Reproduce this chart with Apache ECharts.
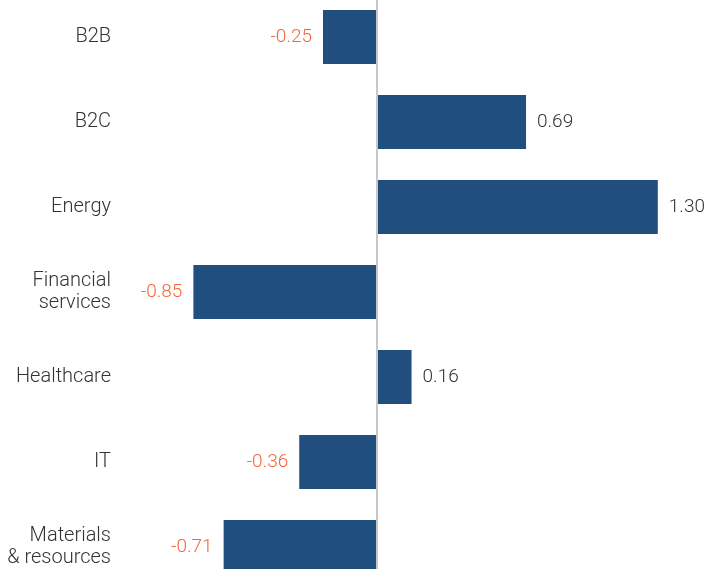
<!DOCTYPE html>
<html>
<head>
<meta charset="utf-8">
<script src="https://cdn.jsdelivr.net/npm/echarts@6/dist/echarts.min.js"></script>
<style>
  html, body { margin: 0; padding: 0; background: #fff; overflow: hidden; width: 704px; height: 569px; }
  /* the last band runs past the bottom edge, so the chart box is taller than the page */
  #chart { position: absolute; left: 0; top: -6px; width: 704px; height: 596px; }
</style>
</head>
<body>
<div id="chart"></div>
<script>
// 行业分类和数值
const categories = ["B2B", "B2C", "Energy", "Financial\nservices", "Healthcare", "IT", "Materials\n& resources"]
const values = [-0.25, 0.69, 1.30, -0.85, 0.16, -0.36, -0.71]

const barColor = "#1f4e7f"
const negColor = "#f4653a"
const posColor = "#333333"
const font = "Roboto"

let myChart = echarts.init(document.getElementById("chart"))

myChart.setOption({
  animation: false,
  grid: {
    left: 161,
    right: 3,
    top: 0.5,
    height: 595,
    containLabel: false,
  },
  xAxis: {
    type: "value",
    min: -1,
    max: 1.5,
    show: false,
  },
  yAxis: {
    type: "category",
    inverse: true,
    data: categories,
    axisLine: { show: false },
    axisTick: { show: false },
    axisLabel: {
      margin: 50,
      color: posColor,
      fontFamily: font,
      fontWeight: 300,
      fontSize: 20,
      lineHeight: 22,
      align: "right",
    },
  },
  series: [
    {
      type: "bar",
      barWidth: 54,
      itemStyle: { color: barColor },
      data: values.map(function (v) {
        return {
          value: v,
          label: {
            show: true,
            position: v < 0 ? "left" : "right",
            distance: 11,
            color: v < 0 ? negColor : posColor,
            fontFamily: font,
            fontWeight: 300,
            fontSize: 19,
            formatter: function (p) { return p.value.toFixed(2) },
          },
        }
      }),
      // 零线
      markLine: {
        silent: true,
        symbol: "none",
        label: { show: false },
        lineStyle: { color: "#c8c8c8", width: 2, type: "solid" },
        data: [{ xAxis: 0 }],
      },
    },
  ],
})
</script>
</body>
</html>
